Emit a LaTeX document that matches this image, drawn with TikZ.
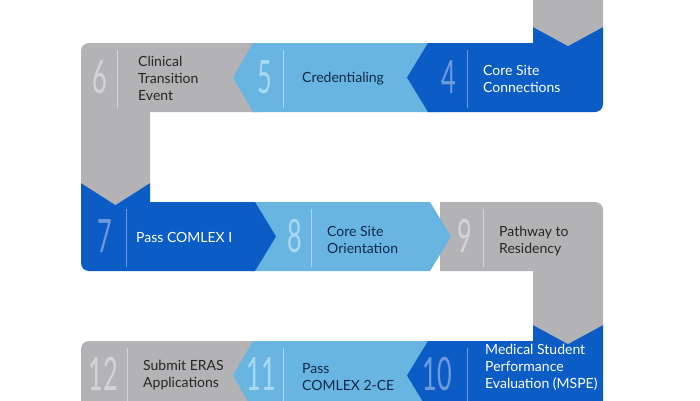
\documentclass[tikz,border=0pt]{standalone}
\usepackage{fontspec}
\setmainfont{Lato}
\usepackage{tikz}

\definecolor{deepblue}{HTML}{0B5CC4}
\definecolor{skyblue}{HTML}{67B5E0}
\definecolor{stepgray}{HTML}{B3B3B5}
\definecolor{numdeep}{HTML}{6E9BDB}
\definecolor{numsky}{HTML}{A9D9F1}
\definecolor{numgray}{HTML}{D3D4D6}
\definecolor{navytext}{HTML}{10294A}

\tikzset{
  num/.style={inner sep=0pt, font=\fontsize{46}{46}\selectfont},
  lbl/.style={anchor=west, inner sep=0pt, align=left, font=\fontsize{14}{17}\selectfont},
  divider/.style={line width=0.8pt}
}
\newcommand{\thin}[1]{\scalebox{0.55}[1]{#1}}

\begin{document}
\begin{tikzpicture}[x=1pt,y=-1pt]
\clip (0,0) rectangle (700,400);
\fill[white] (0,0) rectangle (700,400);

\fill[stepgray] (81,380) [rounded corners=8] -- (81,341) -- (170,341) [sharp corners] -- (260,341) -- (260,410) -- (81,410) -- cycle;
\fill[skyblue] (233,375.5) -- (253,341) -- (440,341) -- (440,410) -- (253,410) -- cycle;
\fill[deepblue] (407,375.5) -- (428,341) -- (533,341) -- (533,325) -- (603,325) -- (603,410) -- (428,410) -- cycle;
\fill[stepgray] (440,202) -- (520,202) [rounded corners=8] -- (603,202) -- (603,260) [sharp corners] -- (603,325) -- (568,344) -- (533,325) -- (533,271) -- (440,271) -- cycle;
\fill[skyblue] (250,202) -- (430,202) -- (451,236.5) -- (430,271) -- (250,271) -- cycle;
\fill[deepblue] (276,236.5) -- (255,271) -- (170,271) [rounded corners=8] -- (81,271) -- (81,230) [sharp corners] -- (81,183) -- (150,183) -- (150,202) -- (255,202) -- cycle;
\fill[stepgray] (81,100) [rounded corners=8] -- (81,43) -- (170,43) [sharp corners] -- (260,43) -- (260,112) -- (150,112) -- (150,183) -- (115.5,205) -- (81,183) -- cycle;
\fill[skyblue] (233,77.5) -- (253,43) -- (440,43) -- (440,112) -- (253,112) -- cycle;
\fill[deepblue] (407,77.5) -- (428,43) -- (533,43) -- (533,27) -- (603,27) -- (603,70) [rounded corners=8] -- (603,112) -- (520,112) [sharp corners] -- (428,112) -- cycle;
\fill[stepgray] (533,-5) -- (603,-5) -- (603,27) -- (568,46) -- (533,27) -- cycle;

\node[num, text=numdeep] (n4) at (449,77) {\thin{4}};
\node[num, text=numsky] (n5) at (265,77) {\thin{5}};
\node[num, text=numgray] (n6) at (100,77) {\thin{6}};
\node[num, text=numdeep] (n7) at (105,236) {\thin{7}};
\node[num, text=numsky] (n8) at (295,236) {\thin{8}};
\node[num, text=numgray] (n9) at (465,236) {\thin{9}};
\node[num, text=numdeep] (n10) at (437,374) {\thin{10}};
\node[num, text=numsky] (n11) at (261,374) {\thin{11}};
\node[num, text=numgray] (n12) at (103,374) {\thin{12}};

\draw[divider, numdeep] (467,50) -- (467,108);
\draw[divider, numsky] (283,50) -- (283,108);
\draw[divider, numgray] (117,50) -- (117,108);
\draw[divider, numdeep] (126,209) -- (126,267);
\draw[divider, numsky] (311,209) -- (311,267);
\draw[divider, numgray] (483,209) -- (483,267);
\draw[divider, numdeep] (467,348) -- (467,406);
\draw[divider, numsky] (283,348) -- (283,406);
\draw[divider, numgray] (127,348) -- (127,406);

\node[lbl, text=white] (t4) at (483,78.5) {Core Site\\Connections};
\node[lbl, text=navytext] (t5) at (302,79) {Credentialing};
\node[lbl, text=black!85] (t6) at (138,78.5) {Clinical\\Transition\\Event};
\node[lbl, text=white] (t7) at (136,237.5) {Pass COMLEX I};
\node[lbl, text=navytext] (t8) at (327,239.5) {Core Site\\Orientation};
\node[lbl, text=black!85] (t9) at (499,241) {Pathway to\\Residency};
\node[lbl, text=white] (t10) at (485,367) {Medical Student\\Performance\\Evaluation (MSPE)};
\node[lbl, text=navytext] (t11) at (302,377.5) {Pass\\COMLEX 2-CE};
\node[lbl, text=black!85] (t12) at (143,375) {Submit ERAS\\Applications};
\end{tikzpicture}
\end{document}
